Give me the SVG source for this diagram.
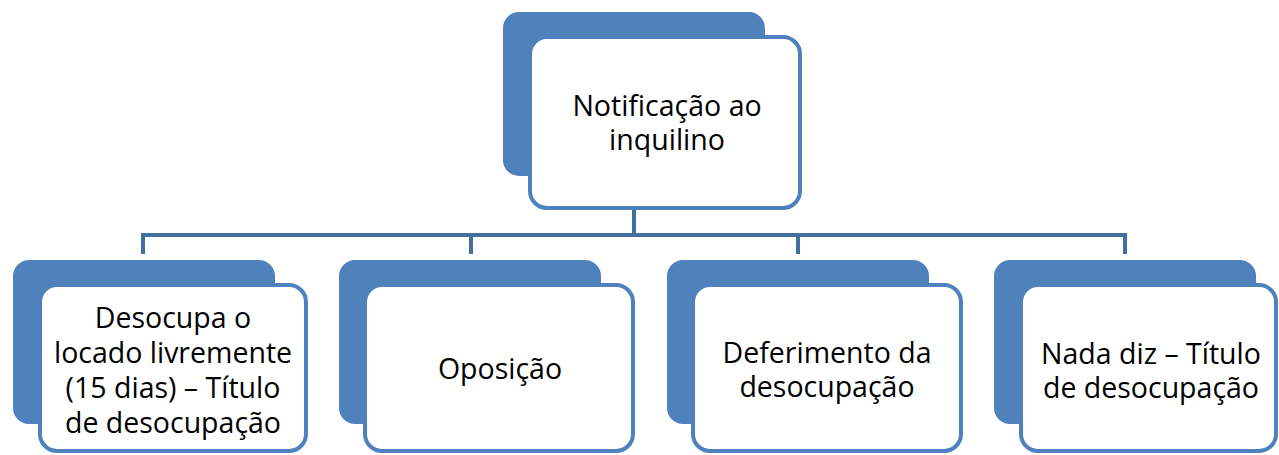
<svg xmlns="http://www.w3.org/2000/svg" width="1279" height="455" viewBox="0 0 1279 455">
<style>
.back{fill:#4F81BD;}
.front{fill:#FFFFFF;stroke:#4F81BD;stroke-width:4;}
.conn{fill:none;stroke:#41709F;stroke-width:4;}
text{font-family:"Open Sans","Noto Sans",sans-serif;font-size:28.5px;fill:#000;text-anchor:middle;}
</style>
<rect width="1279" height="455" fill="#FFFFFF"/>
<g id="connectors">
<path class="conn" d="M634 209 V235 M143 254 V235 H1125 V254 M471 235 V254 M798 235 V254"/>
</g>
<g id="n0">
<rect class="back" x="503" y="12" width="262" height="164" rx="16"/>
<rect class="front" x="530" y="37" width="270" height="171" rx="17"/>
<text x="667" y="116">Notificação ao</text>
<text x="667" y="150">inquilino</text>
</g>
<g id="n1">
<rect class="back" x="13" y="260" width="262" height="164" rx="16"/>
<rect class="front" x="40" y="285" width="266" height="166" rx="17"/>
<text x="173" y="328">Desocupa o</text>
<text x="173" y="363">locado livremente</text>
<text x="173" y="398">(15 dias) – Título</text>
<text x="173" y="433">de desocupação</text>
</g>
<g id="n2">
<rect class="back" x="339" y="260" width="262" height="164" rx="16"/>
<rect class="front" x="365" y="285" width="268" height="166" rx="17"/>
<text x="500" y="379">Oposição</text>
</g>
<g id="n3">
<rect class="back" x="667" y="260" width="262" height="164" rx="16"/>
<rect class="front" x="693" y="285" width="268" height="166" rx="17"/>
<text x="827" y="363">Deferimento da</text>
<text x="827" y="397">desocupação</text>
</g>
<g id="n4">
<rect class="back" x="994" y="260" width="262" height="164" rx="16"/>
<rect class="front" x="1021" y="285" width="255" height="166" rx="17"/>
<text x="1151" y="364">Nada diz – Título</text>
<text x="1151" y="398">de desocupação</text>
</g>
</svg>
